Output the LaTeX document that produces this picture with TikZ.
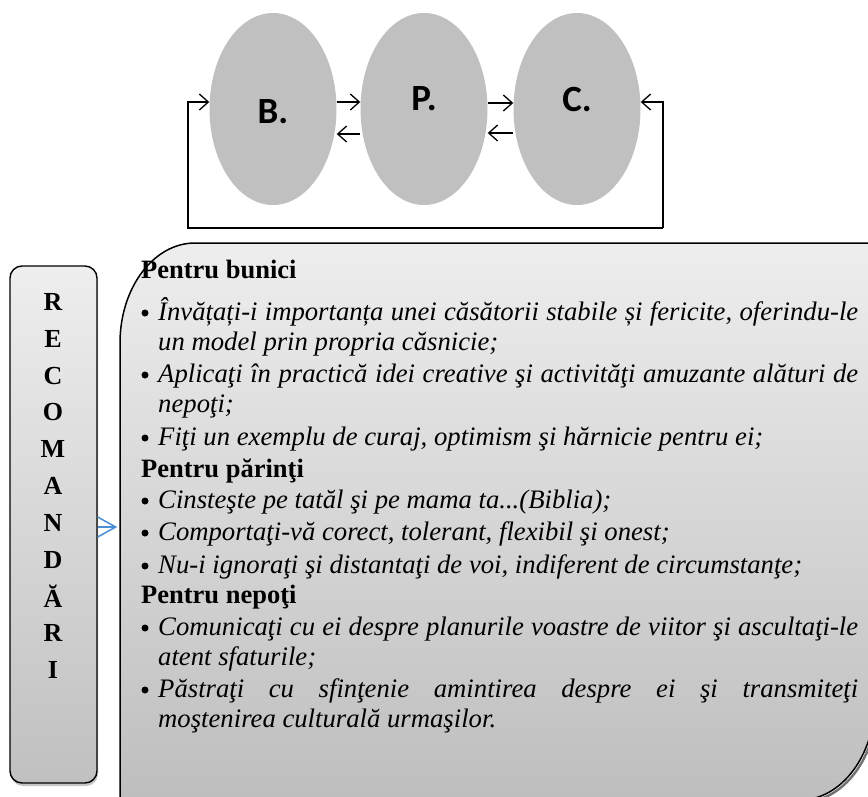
\documentclass[tikz,border=0pt]{standalone}
\usepackage{fontspec}
\setmainfont{Liberation Serif}
\newfontfamily\carl{Carlito}
\usetikzlibrary{arrows.meta,shapes.geometric,shadows}
\definecolor{ellgray}{HTML}{C0C0C0}
\definecolor{boxtop}{HTML}{EEEEEE}
\definecolor{boxbot}{HTML}{BDBDBD}
\definecolor{arrblue}{HTML}{4A8FD6}
\begin{document}
\begin{tikzpicture}[x=1pt,y=-1pt,
  oval/.style={ellipse, fill=ellgray, minimum width=127pt, minimum height=192pt, inner sep=0pt},
  ovallabel/.style={inner sep=0pt, font=\carl\bfseries\fontsize{37}{37}\selectfont},
  arr/.style={-{Straight Barb[length=9pt,width=16pt]}, line width=1.3pt},
  letter/.style={inner sep=0pt, font=\bfseries\fontsize{26}{26}\selectfont},
  txt/.style={anchor=base west, inner sep=0pt, font=\fontsize{26.7}{26.7}\selectfont\itshape},
  hd/.style={anchor=base west, inner sep=0pt, font=\fontsize{26.5}{26.5}\selectfont\bfseries},
  bul/.style={circle, fill=black, inner sep=0pt, minimum size=7pt}]
\useasboundingbox (0,0) rectangle (868,796);
% ---------- top diagram ----------
\node[oval] (B) at (273,109) {};
\node[oval] (P) at (424,109) {};
\node[oval] (C) at (577,109) {};
\node[ovallabel] (Bl) at (273,112) {B.};
\node[ovallabel] (Pl) at (424,99) {P.};
\node[ovallabel] (Cl) at (577,99) {C.};
\draw[arr] ([yshift=7pt]B.east) -- ([yshift=7pt]P.west);
\draw[arr] ([yshift=-25pt]P.west) -- ([yshift=-25pt]B.east);
\draw[arr] ([yshift=6pt]P.east) -- ([yshift=6pt]C.west);
\draw[arr] ([yshift=-24pt]C.west) -- ([yshift=-24pt]P.east);
\coordinate (fl) at (188,228);
\coordinate (fr) at (663,228);
\draw[arr] (fr) -- (fl) |- ([yshift=7pt]B.west);
\draw[arr] (fr) |- ([yshift=7pt]C.east);
% ---------- left box ----------
\node[draw, line width=1.4pt, rounded corners=12pt, minimum width=87pt, minimum height=517pt,
  top color=boxtop, bottom color=ellgray,
  drop shadow={shadow xshift=1pt, shadow yshift=-3pt, opacity=0.45}] (lbox) at (53.5,524.5) {};
\foreach \l [count=\i from 0] in {R,E,C,O,M,A,N,D,Ă,R,I}
  \node[letter] (L\i) at (53,{302+36.8*\i}) {\l};
% ---------- right shape ----------
\begin{scope}
\clip (0,0) rectangle (868,796);
\draw[black!55, line width=2.5pt, shift={(2,2)}]
  (875,243) -- (875,700) .. controls (875,755.2) and (841.4,800) .. (800,800);
\path[top color=boxtop, bottom color=boxbot]
  (120,810) -- (120,343) .. controls (120,287.8) and (153.6,243) .. (195,243)
  -- (875,243) -- (875,700) .. controls (875,755.2) and (841.4,800) .. (800,800)
  -- (800,810) -- cycle;
\draw[line width=1.5pt]
  (120,810) -- (120,343) .. controls (120,287.8) and (153.6,243) .. (195,243)
  -- (875,243) -- (875,700) .. controls (875,755.2) and (841.4,800) .. (800,800);
\end{scope}
\coordinate (ay) at (0,527);
\coordinate (ba) at (lbox.east |- ay);
\draw[arrblue, line width=1.5pt] (ba) ++(0,-10) -- ++(18,10) -- ++(-18,10);
\draw[arrblue, line width=1.5pt] (ba) -- ++(18,0);
% ---------- text ----------
\node[hd] (h1) at (141,278) {Pentru bunici};
\node[bul] (u1) at (145,313) {};
\node[txt] (t1a) at (158,320) {\makebox[700pt][s]{Învățați-i importanța unei căsătorii stabile și fericite, oferindu-le}};
\node[txt] (t1b) at (158,350) {un model prin propria căsnicie;};
\node[bul] (u2) at (145,375) {};
\node[txt] (t2a) at (158,382) {\makebox[700pt][s]{Aplicaţi în practică idei creative şi activităţi amuzante alături de}};
\node[txt] (t2b) at (158,412) {nepoţi;};
\node[bul] (u3) at (145,438) {};
\node[txt] (t3) at (158,445) {Fiţi un exemplu de curaj, optimism şi hărnicie pentru ei;};
\node[hd] (h2) at (141,477) {Pentru părinţi};
\node[bul] (u4) at (145,501) {};
\node[txt] (t4) at (158,508) {Cinsteşte pe tatăl şi pe mama ta...(Biblia);};
\node[bul] (u5) at (145,533) {};
\node[txt] (t5) at (158,540) {Comportaţi-vă corect, tolerant, flexibil şi onest;};
\node[bul] (u6) at (145,566) {};
\node[txt] (t6) at (158,573) {Nu-i ignoraţi şi distantaţi de voi, indiferent de circumstanţe;};
\node[hd] (h3) at (141,603) {Pentru nepoţi};
\node[bul] (u7) at (145,628) {};
\node[txt] (t7a) at (158,635) {\makebox[700pt][s]{Comunicaţi cu ei despre planurile voastre de viitor şi ascultaţi-le}};
\node[txt] (t7b) at (158,665) {atent sfaturile;};
\node[bul] (u8) at (145,690) {};
\node[txt] (t8a) at (158,697) {\makebox[700pt][s]{Păstraţi cu sfinţenie amintirea despre ei şi transmiteţi}};
\node[txt] (t8b) at (158,727) {moştenirea culturală urmaşilor.};
\end{tikzpicture}
\end{document}
